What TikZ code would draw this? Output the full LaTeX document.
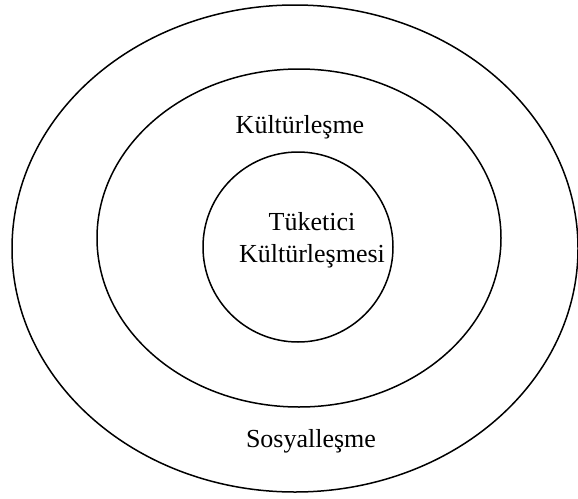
\documentclass[tikz,border=0pt]{standalone}
\usepackage{fontspec}
\setmainfont{Liberation Serif}
\usetikzlibrary{shapes.geometric}
\begin{document}
\begin{tikzpicture}[x=1pt,y=-1pt,
  ring/.style={draw=black, line width=1.5pt, ellipse, inner sep=0pt},
  lbl/.style={font=\fontsize{26}{31}\selectfont, inner sep=0pt, anchor=base}]
\useasboundingbox (0,0) rectangle (578,498);
\node[ring, minimum width=566pt, minimum height=487pt] (outer) at (295,248.5) {};
\node[ring, minimum width=404pt, minimum height=338pt] (middle) at (299,238) {};
\node[ring, minimum width=190pt, minimum height=190pt] (inner) at (298,247) {};
\node[lbl] (kult) at (300,133) {Kültürleşme};
\node[lbl] (tuk) at (312,230) {Tüketici};
\node[lbl] (tukk) at (312,262) {Kültürleşmesi};
\node[lbl] (sos) at (311,447) {Sosyalleşme};
\end{tikzpicture}
\end{document}
